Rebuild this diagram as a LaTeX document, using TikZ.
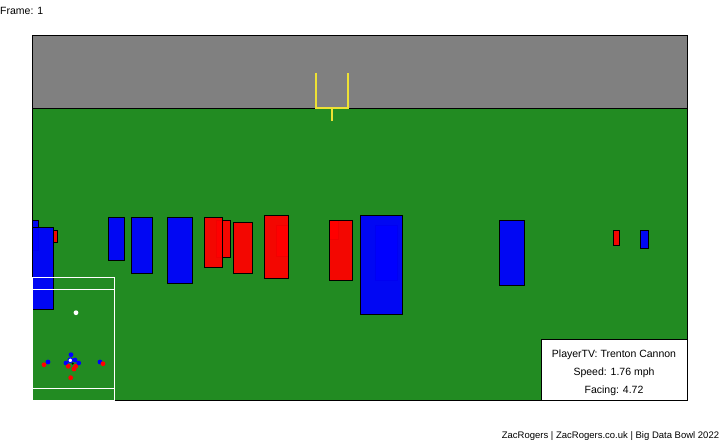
\documentclass[tikz,border=0pt]{standalone}
\usepackage{fontspec}
\setmainfont{Liberation Sans}
\definecolor{fieldgreen}{RGB}{34,139,34}
\definecolor{endgray}{RGB}{128,128,128}
\definecolor{gpyellow}{RGB}{238,226,52}
\definecolor{pblue}{RGB}{0,0,255}
\definecolor{pred}{RGB}{255,0,0}
\tikzset{
  bluep/.style={fill=pblue, fill opacity=0.95, draw=black, line width=0.9pt},
  redp/.style={fill=pred, fill opacity=0.95, draw=black, line width=0.9pt},
  ghostb/.style={fill=pblue, draw=black, line width=0.9pt},
  ghostr/.style={fill=pred, draw=black, line width=0.9pt},
  bdot/.style={fill=pblue},
  rdot/.style={fill=pred},
  mapline/.style={draw=white, line width=1pt},
  lbl/.style={inner sep=0pt, font=\fontsize{10.5}{12}\selectfont}
}
\begin{document}
\begin{tikzpicture}[x=1pt,y=-1pt]
\useasboundingbox[fill=white] (0,0) rectangle (720,440);
% field
\fill[fieldgreen] (32.5,35.5) rectangle (687.3,400);
\fill[endgray] (32.5,35.5) rectangle (687.3,108.3);
\draw[line width=1pt] (32.5,108.3) -- (687.3,108.3);
% goal post
\draw[gpyellow, line width=1.8pt] (316,72.7) -- (316,108.3) -- (348.3,108.3) -- (348.3,72.7);
\draw[gpyellow, line width=1.8pt] (332.2,108.3) -- (332.2,121);
% players
\begin{scope}
\clip (33,36) rectangle (687,400);
\draw[bluep] (30,220) rectangle (38.7,250);
\draw[bluep] (30,227.3) rectangle (53.7,309.3);
\draw[redp] (53.3,230) rectangle (57.7,242.7);
\draw[bluep] (108.3,217.3) rectangle (124.7,260.7);
\draw[bluep] (131.3,217.3) rectangle (152.7,273.7);
\draw[bluep] (167.3,217.3) rectangle (192.7,283.7);
\draw[redp] (216.7,220) rectangle (230.7,257.3);
\draw[redp] (204.3,217.3) rectangle (222.7,267.3);
\draw[redp] (233.3,222.3) rectangle (252.7,273.7);
\draw[ghostr] (276,225) rectangle (288.7,256.7);
\draw[redp] (264.3,215.3) rectangle (288.7,278.7);
\draw[ghostr] (329.3,220.3) rectangle (338.3,239.7);
\draw[redp] (329.3,220.3) rectangle (352.7,280.7);
\draw[ghostb] (375,225) rectangle (397.3,280);
\draw[bluep] (360.3,215.3) rectangle (402.7,314.7);
\draw[bluep] (499.3,220.3) rectangle (524.7,285.7);
\draw[redp] (613.3,230.3) rectangle (619.7,245.3);
\draw[bluep] (640.3,230.3) rectangle (648.7,248.7);
\end{scope}
% field border
\draw[line width=1pt] (114.7,400) -- (687.3,400) -- (687.3,35.5) -- (32.5,35.5) -- (32.5,277);
% minimap
\draw[mapline] (33,277.3) -- (114.7,277.3) -- (114.7,400);
\draw[mapline] (33,289.3) -- (114.7,289.3);
\draw[mapline] (33,388.3) -- (114.7,388.3);
\fill[white] (76,312.7) circle (2.4);
\fill[bdot] (71,354.7) circle (2.4);
\fill[bdot] (48,362) circle (2.4);
\fill[bdot] (66,363) circle (2.4);
\fill[bdot] (78.7,363) circle (2.4);
\fill[bdot] (75,360) circle (2.4);
\fill[bdot] (100,362) circle (2.4);
\fill[rdot] (44,364.7) circle (2.4);
\fill[rdot] (103,363.7) circle (2.4);
\fill[rdot] (68.3,366.3) circle (2.4);
\fill[rdot] (75.7,366.3) circle (2.4);
\fill[rdot] (74,369) circle (2.4);
\fill[rdot] (70.7,377.7) circle (2.4);
\fill[black] (72.7,363.5) circle (1.2);
\draw[fill=white, draw=pblue, line width=1pt] (70.3,360.3) circle (2.4);
% info box
\draw[fill=white, line width=1pt] (541.7,339) rectangle (687.3,400);
\node[lbl, anchor=base] (tv) at (614,357.3) {PlayerTV: Trenton Cannon};
\node[lbl, anchor=base] (speed) at (614,375.3) {Speed: 1.76 mph};
\node[lbl, anchor=base] (facing) at (614,393.3) {Facing: 4.72};
% labels
\node[lbl, anchor=base west] (frame) at (0,14.3) {Frame: 1};
\node[inner sep=0pt, anchor=base east, font=\fontsize{9.5}{11}\selectfont] (credit) at (719.3,438) {ZacRogers | ZacRogers.co.uk | Big Data Bowl 2022};
\end{tikzpicture}
\end{document}
